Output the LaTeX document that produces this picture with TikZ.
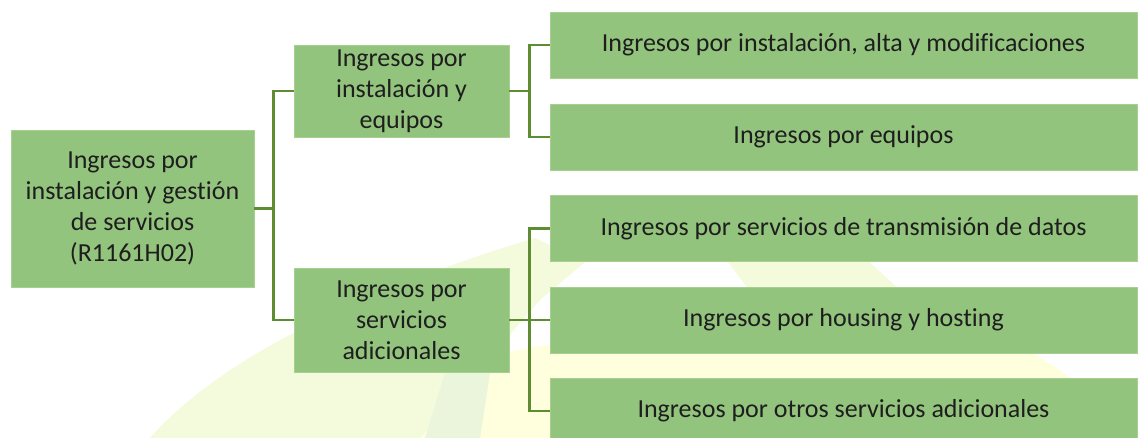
\documentclass[tikz,border=0pt]{standalone}
\usepackage{fontspec}
\setmainfont{Carlito}[RawFeature=-liga]
\usetikzlibrary{positioning,calc}
\definecolor{boxgreen}{HTML}{93C47D}
\definecolor{edgegreen}{HTML}{A6D08F}
\definecolor{linegreen}{HTML}{5E8C31}
\definecolor{textgray}{HTML}{1E1E1E}
\definecolor{palegreen}{HTML}{F4FADC}
\definecolor{paleyellow}{HTML}{FFFFDE}
\definecolor{softgreen}{HTML}{EAF5DC}
\tikzset{
  label/.style={font=\fontsize{26}{31}\selectfont,text=textgray,align=center},
  box/.style={label,draw=edgegreen,fill=boxgreen,line width=0.8pt,inner sep=0pt},
  rootbox/.style={box,minimum width=243,minimum height=157},
  midbox/.style={box,minimum width=215},
  leafbox/.style={box,minimum width=587,minimum height=66},
  link/.style={draw=linegreen,line width=2.6pt}
}
\begin{document}
\begin{tikzpicture}[x=1pt,y=-1pt]
\useasboundingbox (0,0) rectangle (1140,438);
\clip (0,0) rectangle (1140,438);
% faint logo behind the boxes
\fill[paleyellow] (300,438) .. controls (420,360) and (560,330) .. (700,338) -- (1000,340) .. controls (1060,360) and (1100,400) .. (1120,438) -- cycle;
\fill[palegreen] (150,438) .. controls (210,370) and (330,300) .. (535,238) -- (585,262) -- (540,300) -- (420,438) -- cycle;
\fill[palegreen] (725,258) -- (865,258) -- (960,345) -- (790,345) -- cycle;
\fill[softgreen] (425,438) -- (455,340) -- (495,340) -- (480,438) -- cycle;

\node[rootbox] (root) at (132.5,208.5) {Ingresos por\\instalación y gestión\\de servicios\\(R1161H02)};
\node[midbox,minimum height=92] (inst) at (401.5,91) {Ingresos por\\instalación y\\equipos};
\node[midbox,minimum height=104] (adic) at (401.5,320) {Ingresos por\\servicios\\adicionales};

\node[leafbox] (alta) at (843.5,45) {Ingresos por instalación, alta y modificaciones};
\node[leafbox] (equip) at (843.5,137) {Ingresos por equipos};
\node[leafbox] (datos) at (843.5,228.5) {Ingresos por servicios de transmisión de datos};
\node[leafbox] (hous) at (843.5,320) {Ingresos por housing y hosting};
\node[leafbox] (otros) at (843.5,411) {Ingresos por otros servicios adicionales};

\draw[link] (root.east) -- ++(19,0) coordinate (j1) |- (inst.west);
\draw[link] (j1) |- (adic.west);
\draw[link] (inst.east) -- ++(20,0) coordinate (j2) |- (alta.west);
\draw[link] (j2) |- (equip.west);
\draw[link] (adic.east) -- ++(20,0) coordinate (j3) |- (datos.west);
\draw[link] (j3) |- (hous.west);
\draw[link] (j3) |- (otros.west);
\end{tikzpicture}
\end{document}
